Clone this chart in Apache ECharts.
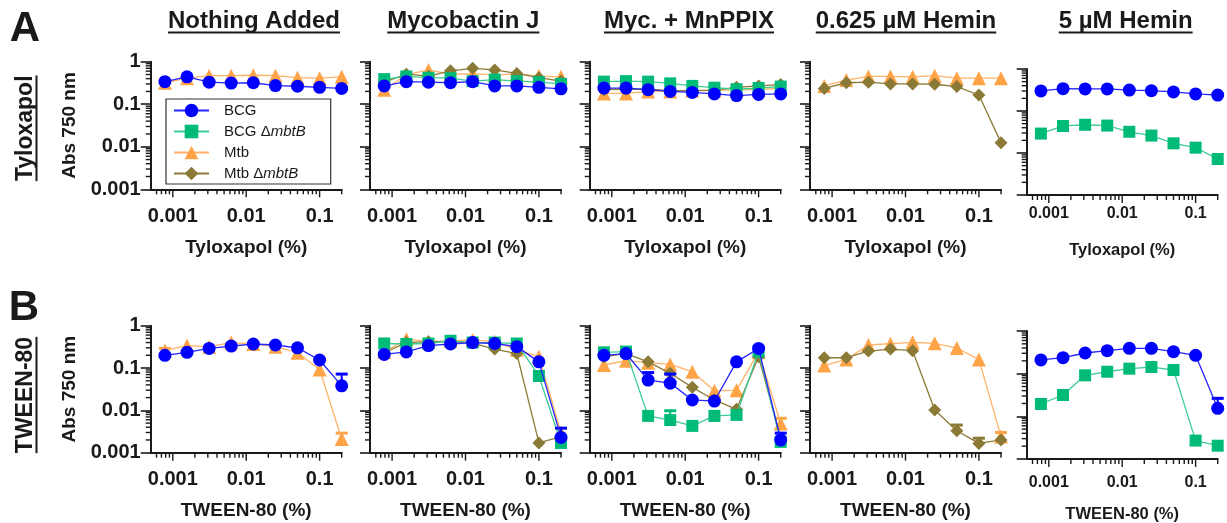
<!DOCTYPE html>
<html>
<head>
<meta charset="utf-8">
<script src="https://cdn.jsdelivr.net/npm/echarts@6/dist/echarts.min.js"></script>
<style>
  html, body { margin: 0; padding: 0; background: #fff; }
  #chart { width: 1227px; height: 523px; }
</style>
</head>
<body>
<div id="chart"></div>
<script>
  // concentrations (%) - 2-fold dilution series
  const conc = [0.00078125, 0.0015625, 0.003125, 0.00625, 0.0125, 0.025, 0.05, 0.1, 0.2]
  const strains = ['BCG', 'BCG \u0394mbtB', 'Mtb', 'Mtb \u0394mbtB']
  const conditions = ['Nothing Added', 'Mycobactin J', 'Myc. + MnPPIX', '0.625 \u00b5M Hemin', '5 \u00b5M Hemin']
  const detergents = ['Tyloxapol', 'TWEEN-80']
  const xMajorTicks = [0.001, 0.01, 0.1]
  const xMinorTicks = [0.0006, 0.0007, 0.0008, 0.0009, 0.002, 0.003, 0.004, 0.005, 0.006, 0.007, 0.008, 0.009,
    0.02, 0.03, 0.04, 0.05, 0.06, 0.07, 0.08, 0.09, 0.2]
  const yMinorTicks = [0.002, 0.003, 0.004, 0.005, 0.006, 0.007, 0.008, 0.009, 0.02, 0.03, 0.04, 0.05, 0.06,
    0.07, 0.08, 0.09, 0.2, 0.3, 0.4, 0.5, 0.6, 0.7, 0.8, 0.9]

  // A: Tyloxapol (Abs 750 nm)
  const A1_BCG = [0.34, 0.44, 0.33, 0.315, 0.32, 0.275, 0.265, 0.25, 0.235]
  const A1_Mtb = [0.32, 0.41, 0.47, 0.47, 0.48, 0.47, 0.42, 0.41, 0.44]
  const A2_BCG = [0.27, 0.34, 0.33, 0.32, 0.34, 0.27, 0.27, 0.25, 0.23]
  const A2_BCGm = [0.39, 0.45, 0.42, 0.41, 0.35, 0.38, 0.35, 0.33, 0.30]
  const A2_Mtb = [0.22, 0.49, 0.64, 0.51, 0.52, 0.49, 0.51, 0.46, 0.44]
  const A2_Mtbm = [0.33, 0.51, 0.46, 0.61, 0.70, 0.64, 0.53, 0.42, 0.35]
  const A3_BCG = [0.24, 0.24, 0.22, 0.20, 0.19, 0.175, 0.16, 0.17, 0.175]
  const A3_BCGm = [0.34, 0.35, 0.34, 0.31, 0.27, 0.245, 0.225, 0.24, 0.26]
  const A3_Mtb = [0.18, 0.18, 0.20, 0.20, 0.21, 0.21, 0.22, 0.22, 0.24]
  const A3_Mtbm = [0.22, 0.225, 0.225, 0.21, 0.21, 0.215, 0.25, 0.27, 0.29]
  const A4_Mtb = [0.27, 0.37, 0.45, 0.45, 0.44, 0.47, 0.41, 0.41, 0.41]
  const A4_Mtbm = [0.235, 0.32, 0.33, 0.30, 0.30, 0.295, 0.26, 0.165, 0.0125]
  const A5_BCG = [0.30, 0.34, 0.335, 0.335, 0.315, 0.305, 0.285, 0.255, 0.24]
  const A5_BCGm = [0.029, 0.044, 0.047, 0.045, 0.032, 0.026, 0.017, 0.0134, 0.0072]

  // B: TWEEN-80 (Abs 750 nm)
  const B1_BCG = [0.20, 0.235, 0.29, 0.33, 0.37, 0.35, 0.30, 0.155, 0.038]
  const B1_Mtb = [0.26, 0.34, 0.32, 0.40, 0.37, 0.32, 0.23, 0.092, 0.0021]
  const B2_BCG = [0.21, 0.24, 0.34, 0.37, 0.40, 0.38, 0.32, 0.14, 0.0023]
  const B2_BCGm = [0.38, 0.37, 0.38, 0.44, 0.40, 0.40, 0.38, 0.065, 0.0017]
  const B2_Mtb = [0.24, 0.48, 0.42, 0.44, 0.46, 0.42, 0.27, 0.185, 0.003]
  const B2_Mtbm = [0.23, 0.40, 0.42, 0.42, 0.39, 0.28, 0.22, 0.0017, 0.0024]
  const B3_BCG = [0.20, 0.22, 0.052, 0.044, 0.0176, 0.0166, 0.14, 0.29, 0.002]
  const B3_BCGm = [0.235, 0.245, 0.0074, 0.0059, 0.0043, 0.0074, 0.0078, 0.245, 0.0018]
  const B3_Mtb = [0.118, 0.149, 0.134, 0.122, 0.082, 0.029, 0.030, 0.24, 0.0049]
  const B3_Mtbm = [0.185, 0.22, 0.14, 0.075, 0.035, 0.0176, 0.0106, 0.185, 0.0022]
  const B4_Mtb = [0.114, 0.16, 0.35, 0.376, 0.404, 0.383, 0.297, 0.16, 0.0024]
  const B4_Mtbm = [0.175, 0.175, 0.252, 0.281, 0.257, 0.0102, 0.0033, 0.00166, 0.002]
  const B5_BCG = [0.21, 0.237, 0.305, 0.346, 0.392, 0.392, 0.328, 0.269, 0.0154]
  const B5_BCGm = [0.0195, 0.0316, 0.0914, 0.111, 0.131, 0.143, 0.122, 0.0027, 0.00205]

  // upper error bar ends: [point index, value]
  const B1_BCG_hi = [[8, 0.072]]
  const B1_Mtb_hi = [[0, 0.29], [8, 0.0029]]
  const B2_BCG_hi = [[8, 0.0038]]
  const B3_BCG_hi = [[2, 0.078], [3, 0.072], [8, 0.0029]]
  const B3_BCGm_hi = [[3, 0.0098]]
  const B3_Mtb_hi = [[8, 0.0065]]
  const B4_Mtb_hi = [[8, 0.003]]
  const B4_Mtbm_hi = [[6, 0.0045], [7, 0.0022]]
  const B5_BCG_hi = [[8, 0.0264]]

  const panelData = [
    [
      [A1_BCG, null, A1_Mtb, null],
      [A2_BCG, A2_BCGm, A2_Mtb, A2_Mtbm],
      [A3_BCG, A3_BCGm, A3_Mtb, A3_Mtbm],
      [null, null, A4_Mtb, A4_Mtbm],
      [A5_BCG, A5_BCGm, null, null]
    ],
    [
      [B1_BCG, null, B1_Mtb, null],
      [B2_BCG, B2_BCGm, B2_Mtb, B2_Mtbm],
      [B3_BCG, B3_BCGm, B3_Mtb, B3_Mtbm],
      [null, null, B4_Mtb, B4_Mtbm],
      [B5_BCG, B5_BCGm, null, null]
    ]
  ]
  const panelErr = [
    [[], [], [], [], []],
    [
      [B1_BCG_hi, null, B1_Mtb_hi, null],
      [B2_BCG_hi, null, null, null],
      [B3_BCG_hi, B3_BCGm_hi, B3_Mtb_hi, null],
      [null, null, B4_Mtb_hi, B4_Mtbm_hi],
      [B5_BCG_hi, null, null, null]
    ]
  ]

  const FONT = 'Liberation Sans, Arial, Helvetica, sans-serif'
  const INK = '#1a1a1a'
  const X_MIN = 0.0005
  const X_MAX = 0.2

  const styles = [
    { color: '#0000ff', line: '#2424ff', symbol: 'circle', size: 13, z: 5 },
    { color: '#00bb78', line: '#3ccd95', symbol: 'rect', size: 12, z: 4 },
    { color: '#ffa347', line: '#ffb268', symbol: 'triangle', size: 14, z: 3 },
    { color: '#8b7a35', line: '#8b7a35', symbol: 'diamond', size: 13, z: 3.5 }
  ]

  const colLeft = [150.7, 370, 589.7, 810, 1026.7]
  const plotW = 191
  const rowTop = [[61.7, 61.7, 61.7, 61.7, 69], [325.7, 325.7, 325.7, 325.7, 331]]
  const rowH = [[127.6, 127.6, 127.6, 127.6, 126], [127, 127, 127, 127, 128]]
  const lastLabelMargin = [11, 16]
  const lastNameGap = [47, 47]

  const decadeLabel = (v) => {
    const e = Math.log10(v)
    if (Math.abs(e - Math.round(e)) > 1e-6) return ''
    return String(Number(Math.pow(10, Math.round(e)).toPrecision(1)))
  }

  const grid = []
  const xAxis = []
  const yAxis = []
  const series = []

  const tickData = []
  xMajorTicks.forEach(v => tickData.push([v, 0.001, 1]))
  xMinorTicks.forEach(v => tickData.push([v, 0.001, 0]))
  yMinorTicks.forEach(v => tickData.push([X_MIN, v, 2]))

  const renderTick = (params, api) => {
    const p = api.coord([api.value(0), api.value(1)])
    const k = api.value(2)
    const shape = k === 2
      ? { x1: p[0] - 5, y1: p[1], x2: p[0], y2: p[1] }
      : { x1: p[0], y1: p[1], x2: p[0], y2: p[1] + (k === 1 ? 8 : 5) }
    return { type: 'line', shape, style: { stroke: INK, lineWidth: 1.4 } }
  }

  const makeErrRenderer = (color) => (params, api) => {
    const p0 = api.coord([api.value(0), api.value(1)])
    const p1 = api.coord([api.value(0), api.value(2)])
    return {
      type: 'group',
      children: [
        { type: 'line', shape: { x1: p0[0], y1: p0[1], x2: p1[0], y2: p1[1] }, style: { stroke: color, lineWidth: 2 } },
        { type: 'line', shape: { x1: p1[0] - 6, y1: p1[1], x2: p1[0] + 6, y2: p1[1] }, style: { stroke: color, lineWidth: 3 } }
      ]
    }
  }

  for (let r = 0; r < 2; r++) {
    for (let c = 0; c < 5; c++) {
      const idx = r * 5 + c
      const last = c === 4
      grid.push({
        left: colLeft[c], top: rowTop[r][c], width: plotW, height: rowH[r][c],
        containLabel: false, outerBoundsMode: 'none'
      })
      xAxis.push({
        type: 'log', gridIndex: idx, min: X_MIN, max: X_MAX, logBase: 10,
        axisLine: { lineStyle: { color: INK, width: 2 } },
        axisTick: { show: false },
        splitLine: { show: false },
        axisLabel: {
          formatter: decadeLabel, color: INK, fontWeight: 'bold', fontFamily: FONT,
          fontSize: last ? 16 : 20, margin: last ? lastLabelMargin[r] : 17
        },
        name: detergents[r] + ' (%)',
        nameLocation: 'middle',
        nameGap: last ? lastNameGap[r] : 49,
        nameTextStyle: { color: INK, fontWeight: 'bold', fontFamily: FONT, fontSize: last ? 16.5 : 19 }
      })
      yAxis.push({
        type: 'log', gridIndex: idx, min: 0.001, max: 1, logBase: 10,
        axisLine: { show: true, lineStyle: { color: INK, width: 2 } },
        axisTick: { show: true, length: 10, lineStyle: { color: INK, width: 1.6 } },
        splitLine: { show: false },
        axisLabel: {
          show: c === 0, formatter: decadeLabel, color: INK, fontWeight: 'bold',
          fontFamily: FONT, fontSize: 20, margin: 10
        },
        name: c === 0 ? 'Abs 750 nm' : '',
        nameLocation: 'middle',
        nameGap: 71,
        nameTextStyle: { color: INK, fontWeight: 'bold', fontFamily: FONT, fontSize: 19 }
      })

      series.push({
        type: 'custom', name: 'ticks', xAxisIndex: idx, yAxisIndex: idx,
        data: tickData, encode: { x: 0, y: 1 }, renderItem: renderTick,
        clip: false, silent: true, z: 6
      })

      panelData[r][c].forEach((vals, s) => {
        if (!vals) return
        const st = styles[s]
        series.push({
          type: 'line', name: strains[s], xAxisIndex: idx, yAxisIndex: idx,
          data: conc.map((x, j) => [x, vals[j]]),
          symbol: st.symbol, symbolSize: st.size, showSymbol: true,
          itemStyle: { color: st.color },
          lineStyle: { color: st.line, width: 1.3 },
          z: st.z, silent: true
        })
        const hi = panelErr[r][c][s]
        if (hi && hi.length) {
          series.push({
            type: 'custom', name: strains[s] + ' err', xAxisIndex: idx, yAxisIndex: idx,
            data: hi.map(([j, up]) => [conc[j], vals[j], up]),
            encode: { x: 0, y: 1 },
            renderItem: makeErrRenderer(st.color),
            clip: false, silent: true, z: st.z - 0.5
          })
        }
      })
    }
  }

  // text measurement for underlines
  const ctx = document.createElement('canvas').getContext('2d')
  const textWidth = (t, size) => {
    ctx.font = 'bold ' + size + 'px "Liberation Sans", Arial, sans-serif'
    return ctx.measureText(t).width
  }

  const graphic = []
  const boldText = (text, x, y, size, rotation) => ({
    type: 'text', x, y, rotation: rotation || 0,
    style: {
      text, x: 0, y: 0, fill: INK, font: 'bold ' + size + 'px ' + FONT,
      align: 'center', verticalAlign: 'middle', textAlign: 'center', textVerticalAlign: 'middle'
    }
  })

  graphic.push(boldText('A', 25, 29, 42))
  graphic.push(boldText('B', 24, 308, 42))

  const titleX = [254, 463.3, 689, 906, 1125.7]
  conditions.forEach((t, i) => {
    graphic.push(boldText(t, titleX[i], 21, 24))
    const w = textWidth(t, 24)
    graphic.push({
      type: 'line', shape: { x1: titleX[i] - w / 2, y1: 32.5, x2: titleX[i] + w / 2, y2: 32.5 },
      style: { stroke: INK, lineWidth: 2 }
    })
  })

  const rowLabelY = [128.3, 395]
  detergents.forEach((t, i) => {
    graphic.push(boldText(t, 26, rowLabelY[i], 23, Math.PI / 2))
    const w = textWidth(t, 23)
    graphic.push({
      type: 'line', shape: { x1: 36.5, y1: rowLabelY[i] - w / 2, x2: 36.5, y2: rowLabelY[i] + w / 2 },
      style: { stroke: INK, lineWidth: 2 }
    })
  })

  const chart = echarts.init(document.getElementById('chart'))
  chart.setOption({
    animation: false,
    backgroundColor: '#fff',
    grid,
    xAxis,
    yAxis,
    series,
    graphic,
    legend: {
      data: strains,
      orient: 'vertical',
      left: 166,
      top: 99,
      itemWidth: 35,
      itemHeight: 17,
      itemGap: 6,
      padding: [4, 25, 3, 7],
      borderColor: '#333',
      borderWidth: 1.2,
      backgroundColor: '#fff',
      selectedMode: false,
      formatter: (name) => {
        const parts = name.split('\u0394')
        return parts.length > 1 ? '{n|' + parts[0] + '\u0394}{i|' + parts[1] + '}' : '{n|' + name + '}'
      },
      textStyle: {
        padding: [0, 0, 0, 10],
        rich: {
          n: { fontSize: 15, fontFamily: FONT, color: INK },
          i: { fontSize: 15, fontFamily: FONT, color: INK, fontStyle: 'italic' }
        }
      }
    }
  })
</script>
</body>
</html>
